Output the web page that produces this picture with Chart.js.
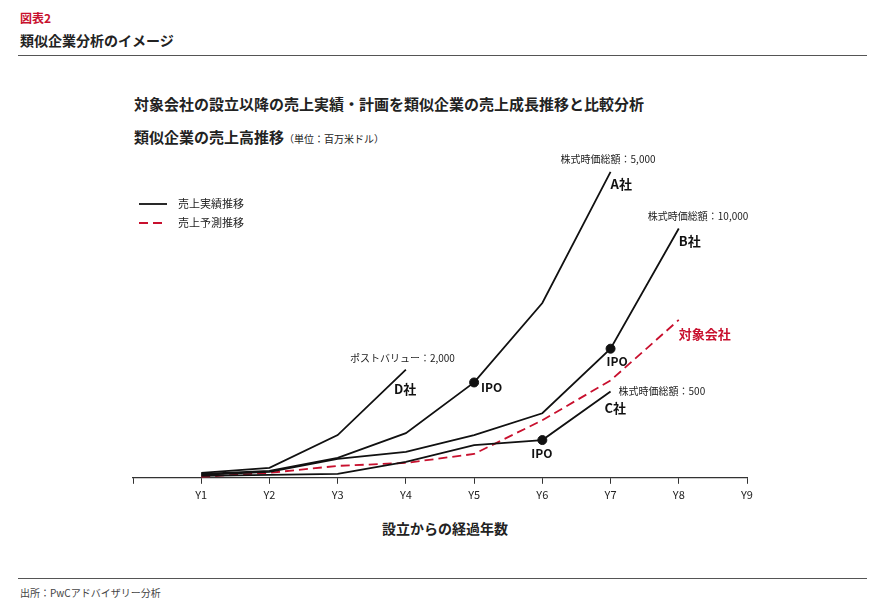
<!DOCTYPE html>
<html><head><meta charset="utf-8">
<script src="https://cdn.jsdelivr.net/npm/chart.js@4"></script>
<style>
body{margin:0;width:884px;height:615px;background:#fff;font-family:"Noto Sans CJK JP","Noto Sans",sans-serif;position:relative;overflow:hidden}
.t{position:absolute;white-space:nowrap;color:#222}
#wrap{position:absolute;left:0;top:0;width:884px;height:615px}
</style></head><body>
<div class="t" style="left:20px;top:9px;font-size:12px;font-weight:bold;color:#c8102e">図表2</div>
<div class="t" style="left:20px;top:30px;font-size:14px;font-weight:bold">類似企業分析のイメージ</div>
<div style="position:absolute;left:18px;top:55px;width:849px;height:1px;background:#555"></div>
<div class="t" style="left:134px;top:93px;font-size:15px;font-weight:bold">対象会社の設立以降の売上実績・計画を類似企業の売上成長推移と比較分析</div>
<div class="t" style="left:134px;top:126px;font-size:15px;font-weight:bold">類似企業の売上高推移<span style="font-size:10px;font-weight:normal">（単位：百万米ドル）</span></div>
<div class="t" style="left:382px;top:518px;font-size:14px;font-weight:bold">設立からの経過年数</div>
<div style="position:absolute;left:18px;top:578px;width:849px;height:1px;background:#555"></div>
<div class="t" style="left:20px;top:585px;font-size:10px;color:#444">出所：PwCアドバイザリー分析</div>
<div id="wrap"><canvas id="c" width="884" height="615"></canvas></div>
<script>
const years = [1,2,3,4,5,6,7,8];
const tickLabels = ['','Y1','Y2','Y3','Y4','Y5','Y6','Y7','Y8','Y9'];
const salesA = [4,7,20,45,96,176,308];
const salesB = [3,6,19,26,43,65,130,251];
const salesC = [2,3,4,16,33,38,87];
const salesD = [5,10,43,109];
const salesTarget = [1,5,12,15,24,58,98,159];
const ipoA = [null,null,null,null,96];
const ipoB = [null,null,null,null,null,null,130];
const ipoC = [null,null,null,null,null,38];

function pts(v){return v.map((y,i)=>({x:years[i],y:y}));}
const blk = {borderColor:'#111',borderWidth:1.8,pointRadius:0,fill:false,tension:0};
const dot = {showLine:false,pointRadius:4.5,pointBackgroundColor:'#111',pointBorderColor:'#111'};

const notes = [
 {x:7,y:308,dx:-50,dy:-13,t:'株式時価総額：5,000',f:'10px "Noto Sans CJK JP"',c:'#222',a:'left'},
 {x:7,y:308,dx:0,dy:12,t:'A社',f:'bold 13px "Noto Sans CJK JP"',c:'#111',a:'left'},
 {x:8,y:251,dx:-31,dy:-12,t:'株式時価総額：10,000',f:'10px "Noto Sans CJK JP"',c:'#222',a:'left'},
 {x:8,y:251,dx:0,dy:13,t:'B社',f:'bold 13px "Noto Sans CJK JP"',c:'#111',a:'left'},
 {x:8,y:159,dx:0,dy:14,t:'対象会社',f:'bold 13px "Noto Sans CJK JP"',c:'#c8102e',a:'left'},
 {x:7,y:87,dx:8,dy:0,t:'株式時価総額：500',f:'10px "Noto Sans CJK JP"',c:'#222',a:'left'},
 {x:7,y:87,dx:-6,dy:17,t:'C社',f:'bold 13px "Noto Sans CJK JP"',c:'#111',a:'left'},
 {x:4,y:109,dx:-56,dy:-11,t:'ポストバリュー：2,000',f:'10px "Noto Sans CJK JP"',c:'#222',a:'left'},
 {x:4,y:109,dx:-12,dy:20,t:'D社',f:'bold 13px "Noto Sans CJK JP"',c:'#111',a:'left'},
 {x:5,y:96,dx:7,dy:5,t:'IPO',f:'bold 12px "Noto Sans CJK JP"',c:'#111',a:'left'},
 {x:7,y:130,dx:-4,dy:13,t:'IPO',f:'bold 12px "Noto Sans CJK JP"',c:'#111',a:'left'},
 {x:6,y:38,dx:-11,dy:13,t:'IPO',f:'bold 12px "Noto Sans CJK JP"',c:'#111',a:'left'}
];
const notePlugin={id:'notes',afterDatasetsDraw(ch){
 const c=ch.ctx,xs=ch.scales.x,ys=ch.scales.y;
 c.save();c.textBaseline='middle';
 notes.forEach(n=>{c.font=n.f;c.fillStyle=n.c;c.textAlign=n.a;
  c.fillText(n.t,xs.getPixelForValue(n.x)+n.dx,ys.getPixelForValue(n.y)+n.dy);});
 c.lineWidth=1.8;c.strokeStyle='#111';c.setLineDash([]);
 c.beginPath();c.moveTo(139,204);c.lineTo(167,204);c.stroke();
 c.strokeStyle='#c8102e';c.setLineDash([9,5]);
 c.beginPath();c.moveTo(139,223);c.lineTo(167,223);c.stroke();
 c.setLineDash([]);c.font='11px "Noto Sans CJK JP"';c.fillStyle='#222';c.textAlign='left';
 c.fillText('売上実績推移',178,204);c.fillText('売上予測推移',178,223);
 c.restore();}};

new Chart(document.getElementById('c'),{
 type:'scatter',
 data:{datasets:[
  {...blk,showLine:true,data:pts(salesA)},
  {...blk,showLine:true,data:pts(salesB)},
  {...blk,showLine:true,data:pts(salesC)},
  {...blk,showLine:true,data:pts(salesD)},
  {...blk,showLine:true,borderColor:'#c8102e',borderDash:[9,5],data:pts(salesTarget)},
  {...dot,data:pts(ipoA)},{...dot,data:pts(ipoB)},{...dot,data:pts(ipoC)}
 ]},
 plugins:[notePlugin],
 options:{responsive:false,animation:false,
  layout:{padding:{left:133,right:137,top:160,bottom:110}},
  plugins:{legend:{display:false},tooltip:{enabled:false}},
  scales:{
   x:{type:'linear',min:0,max:9,
    border:{color:'#333',width:1.2},
    grid:{drawOnChartArea:false,tickLength:6,color:'#333'},
    ticks:{stepSize:1,color:'#222',font:{size:11,family:'"Noto Sans CJK JP"'},padding:4,
      callback:(v)=>tickLabels[v]}},
   y:{display:false,min:0,max:320}
  }}
});
</script></body></html>
